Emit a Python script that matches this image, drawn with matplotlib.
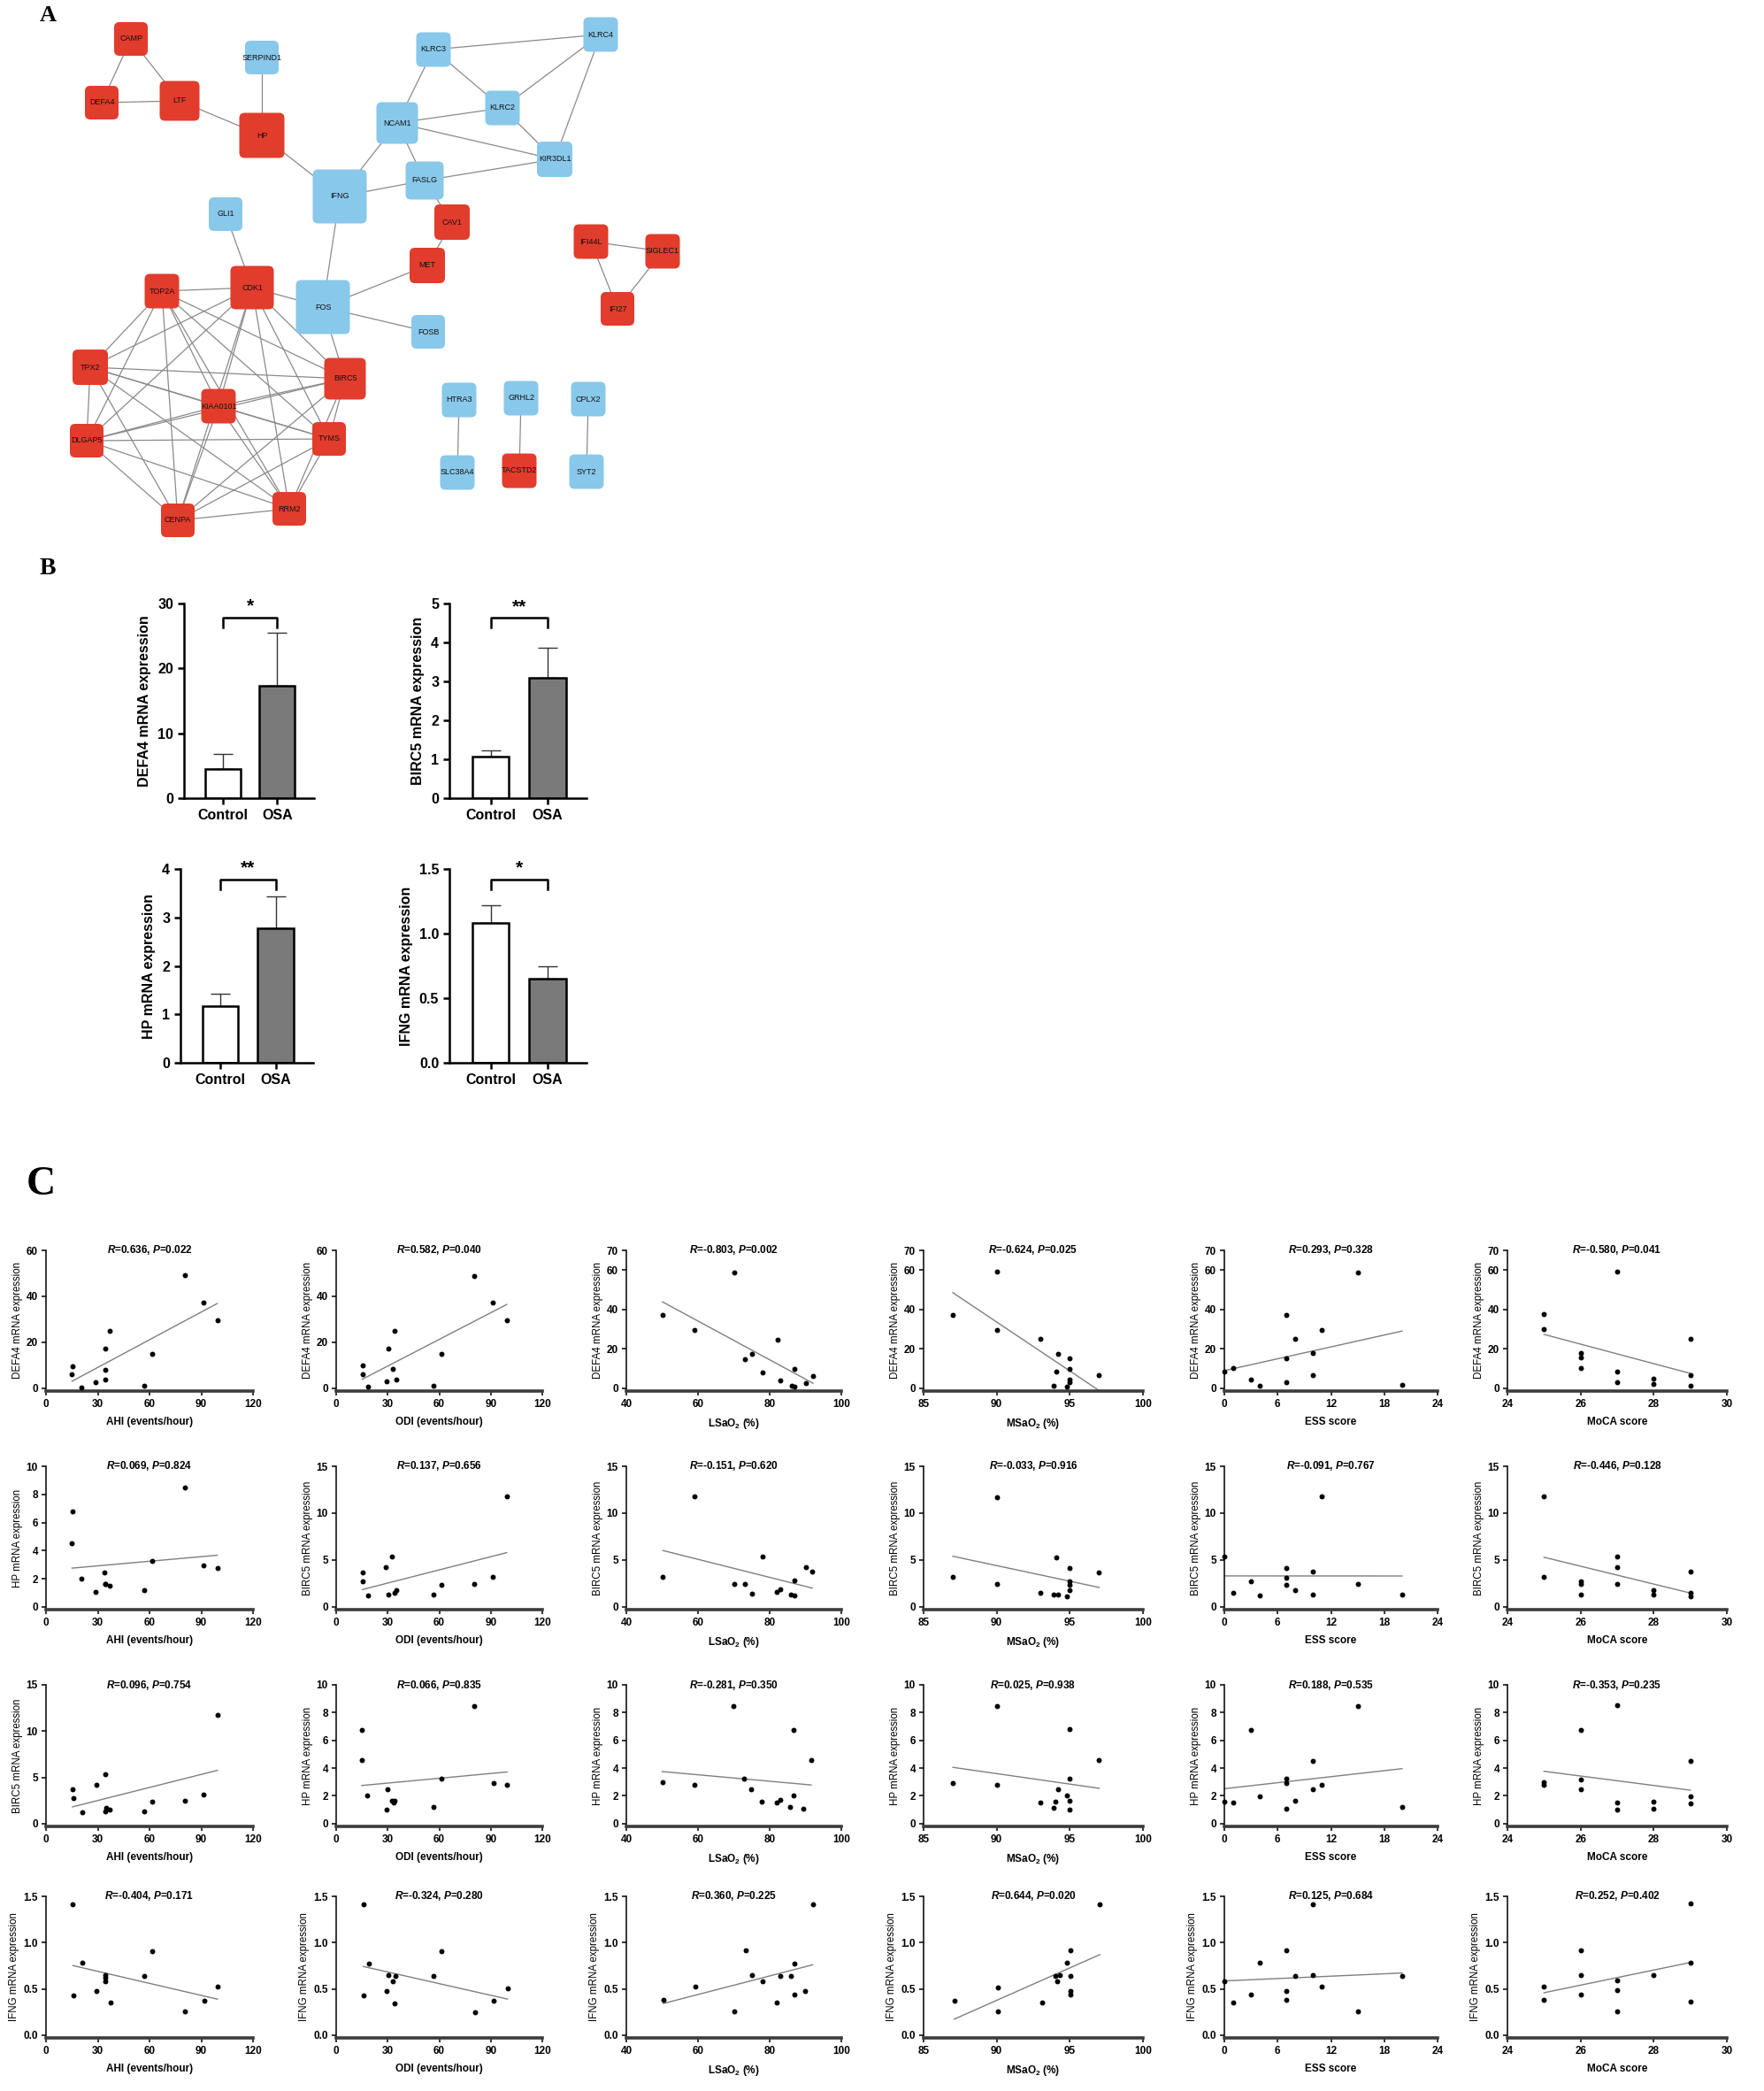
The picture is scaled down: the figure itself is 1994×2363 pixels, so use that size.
import itertools
import matplotlib
matplotlib.use('Agg')
import matplotlib.pyplot as plt
from matplotlib.patches import FancyBboxPatch
import numpy as np

plt.rcParams['font.family'] = 'sans-serif'
plt.rcParams['font.sans-serif'] = ['Liberation Sans', 'DejaVu Sans']
plt.rcParams['mathtext.fontset'] = 'custom'
plt.rcParams['mathtext.rm'] = 'sans:bold'
plt.rcParams['mathtext.bfit'] = 'sans:italic:bold'

W, H = 1994, 2363

# ---------------- panel A: PPI network ----------------
node_names = ['CAMP', 'DEFA4', 'LTF', 'SERPIND1', 'HP', 'KLRC3', 'KLRC4', 'KLRC2', 'NCAM1',
              'KIR3DL1', 'FASLG', 'IFNG', 'GLI1', 'CAV1', 'MET', 'FOS', 'FOSB', 'CDK1',
              'TOP2A', 'TPX2', 'BIRC5', 'KIAA0101', 'TYMS', 'DLGAP5', 'CENPA', 'RRM2',
              'IFI44L', 'SIGLEC1', 'IFI27', 'HTRA3', 'GRHL2', 'CPLX2', 'SLC38A4', 'TACSTD2', 'SYT2']
node_x = [148, 115, 203, 296, 296, 490, 679, 568, 449, 627, 480, 384, 255, 511, 483, 365, 484, 285,
          183, 102, 390, 247, 372, 98, 201, 327, 668, 749, 698, 519, 589, 665, 517, 587, 663]
node_y = [44, 116, 114, 65, 153, 56, 39, 122, 139, 180, 204, 222, 242, 251, 300, 347, 375, 325,
          329, 415, 428, 459, 496, 498, 588, 575, 273, 284, 349, 452, 450, 451, 534, 532, 533]
node_size = [38, 38, 45, 38, 51, 39, 39, 39, 47, 40, 43, 61, 38, 40, 40, 61, 38, 49,
             39, 40, 47, 39, 38, 38, 38, 38, 39, 39, 38, 39, 39, 39, 39, 39, 39]
up_genes = ['CAMP', 'DEFA4', 'LTF', 'HP', 'CAV1', 'MET', 'CDK1', 'TOP2A', 'TPX2', 'BIRC5',
            'KIAA0101', 'TYMS', 'DLGAP5', 'CENPA', 'RRM2', 'IFI44L', 'SIGLEC1', 'IFI27', 'TACSTD2']
edges = [('CAMP', 'DEFA4'), ('CAMP', 'LTF'), ('DEFA4', 'LTF'), ('LTF', 'HP'), ('SERPIND1', 'HP'),
         ('HP', 'IFNG'), ('IFNG', 'NCAM1'), ('IFNG', 'FASLG'), ('IFNG', 'FOS'), ('NCAM1', 'KLRC3'),
         ('NCAM1', 'KLRC2'), ('NCAM1', 'KIR3DL1'), ('NCAM1', 'FASLG'), ('KLRC3', 'KLRC4'),
         ('KLRC3', 'KLRC2'), ('KLRC4', 'KLRC2'), ('KLRC4', 'KIR3DL1'), ('KLRC2', 'KIR3DL1'),
         ('FASLG', 'KIR3DL1'), ('FASLG', 'CAV1'), ('CAV1', 'MET'), ('MET', 'FOS'), ('FOS', 'FOSB'),
         ('FOS', 'CDK1'), ('FOS', 'BIRC5'), ('GLI1', 'CDK1'), ('IFI44L', 'SIGLEC1'),
         ('IFI44L', 'IFI27'), ('SIGLEC1', 'IFI27'), ('HTRA3', 'SLC38A4'), ('GRHL2', 'TACSTD2'),
         ('CPLX2', 'SYT2')]
cluster = ['CDK1', 'TOP2A', 'TPX2', 'BIRC5', 'KIAA0101', 'TYMS', 'DLGAP5', 'CENPA', 'RRM2']
edges += list(itertools.combinations(cluster, 2))

# ---------------- panel B: qPCR bars ----------------
b_genes = ['DEFA4', 'BIRC5', 'HP', 'IFNG']
ctrl_mean = [4.47, 1.07, 1.17, 1.08]
ctrl_err = [2.33, 0.16, 0.25, 0.14]
osa_mean = [17.35, 3.08, 2.78, 0.65]
osa_err = [8.15, 0.78, 0.65, 0.10]
b_ymax = [30, 5, 4, 1.5]
b_yticks = [[0, 10, 20, 30], [0, 1, 2, 3, 4, 5], [0, 1, 2, 3, 4], [0.0, 0.5, 1.0, 1.5]]
b_stars = ['*', '**', '**', '*']
b_bracket = [27.8, 4.63, 3.78, 1.42]

# ---------------- panel C: correlations ----------------
x_labels = ['AHI (events/hour)', 'ODI (events/hour)', r'LSaO$_2$ (%)', r'MSaO$_2$ (%)',
            'ESS score', 'MoCA score']
x_lims = [(0, 120), (0, 120), (40, 100), (85, 100), (0, 24), (24, 30)]
x_ticks = [[0, 30, 60, 90, 120], [0, 30, 60, 90, 120], [40, 60, 80, 100], [85, 90, 95, 100],
           [0, 6, 12, 18, 24], [24, 26, 28, 30]]

row_genes = [['DEFA4'] * 6,
             ['HP'] + ['BIRC5'] * 5,
             ['BIRC5'] + ['HP'] * 5,
             ['IFNG'] * 6]

r1_x = [[15.6, 15.1, 20.6, 28.9, 34.2, 34.2, 34.4, 36.9, 56.9, 61.5, 80.3, 91.5, 99.3],
        [15.2, 15.2, 18.4, 30.2, 29.3, 32.9, 33.9, 34.8, 56.7, 61.3, 80.2, 91.2, 99.3],
        [50.1, 59.0, 70.1, 73.0, 75.1, 78.0, 82.1, 83.0, 86.1, 87.0, 87.0, 90.1, 92.1],
        [87.0, 90.0, 90.0, 93.0, 94.2, 94.1, 93.9, 94.8, 95.0, 95.0, 95.0, 95.0, 97.0],
        [0, 1, 3, 4, 7, 7, 7, 8, 10, 10, 11, 15, 20],
        [25, 25, 26, 26, 26, 27, 27, 27, 28, 28, 29, 29, 29]]
r1_y = [[9.7, 6.3, 0.5, 2.8, 17.3, 8.1, 3.9, 24.8, 1.3, 15.1, 49.2, 37.3, 29.7],
        [9.8, 6.3, 0.7, 17.3, 2.9, 8.4, 24.8, 3.9, 1.3, 15.1, 49.0, 37.1, 29.7],
        [37.0, 29.6, 58.7, 14.9, 17.3, 8.2, 24.7, 4.1, 1.3, 0.7, 9.7, 2.6, 6.1],
        [37.4, 59.2, 29.7, 25.0, 17.6, 8.4, 1.4, 0.7, 15.3, 10.0, 4.5, 2.9, 6.5],
        [8.5, 10.1, 4.5, 1.2, 37.3, 15.3, 3.2, 24.9, 17.7, 6.6, 29.8, 58.9, 1.9],
        [37.6, 30.0, 17.9, 15.5, 10.2, 59.2, 8.7, 3.3, 4.7, 2.0, 25.0, 6.8, 1.1]]
r1_stats = [('0.636', '0.022'), ('0.582', '0.040'), ('-0.803', '0.002'),
            ('-0.624', '0.025'), ('0.293', '0.328'), ('-0.580', '0.041')]

r2_x = [[15.6, 15.1, 20.4, 28.9, 33.9, 34.2, 34.4, 36.9, 56.9, 61.5, 80.3, 91.5, 99.3],
        [15.2, 15.2, 18.4, 30.2, 29.0, 32.5, 33.9, 34.8, 56.7, 61.3, 80.2, 91.2, 99.3],
        [50.2, 59.0, 70.1, 73.0, 75.0, 78.0, 81.9, 82.9, 85.9, 87.0, 87.0, 90.1, 91.9],
        [87.0, 90.0, 90.0, 93.0, 93.9, 94.2, 94.1, 94.8, 95.0, 95.0, 95.0, 95.0, 97.0],
        [0, 1, 3, 4, 7, 7, 7, 8, 10, 10, 11, 15, 20],
        [25, 25, 26, 26, 26, 27, 27, 27, 28, 28, 29, 29, 29]]
r2_y = [[6.79, 4.54, 1.99, 1.05, 2.46, 1.61, 1.65, 1.50, 1.20, 3.25, 8.50, 2.95, 2.78],
        [3.70, 2.73, 1.17, 1.30, 4.19, 5.36, 1.49, 1.75, 1.27, 2.37, 2.40, 3.15, 11.8],
        [3.20, 11.83, 2.45, 2.45, 1.37, 5.40, 1.58, 1.86, 1.34, 2.80, 1.24, 4.25, 3.79],
        [3.16, 11.73, 2.40, 1.49, 1.28, 1.28, 5.29, 1.16, 4.16, 2.74, 2.37, 1.76, 3.71],
        [5.32, 1.51, 2.74, 1.20, 4.18, 3.14, 2.37, 1.78, 3.75, 1.32, 11.82, 2.40, 1.29],
        [11.8, 3.18, 2.73, 2.42, 1.33, 5.33, 4.21, 2.45, 1.82, 1.30, 3.76, 1.52, 1.15]]
r2_stats = [('0.069', '0.824'), ('0.137', '0.656'), ('-0.151', '0.620'),
            ('-0.033', '0.916'), ('-0.091', '0.767'), ('-0.446', '0.128')]

r3_x = [[15.4, 15.7, 21.2, 29.4, 34.3, 34.3, 35.0, 36.9, 56.9, 61.4, 80.4, 91.5, 99.3],
        [14.9, 14.9, 17.9, 29.1, 29.8, 32.7, 33.4, 34.0, 56.5, 61.2, 80.3, 91.6, 99.5],
        [50.0, 59.1, 69.8, 72.8, 74.8, 77.8, 81.9, 83.0, 85.6, 86.7, 86.7, 89.5, 91.6],
        [87.0, 90.0, 90.0, 93.0, 93.9, 94.0, 94.2, 94.8, 95.0, 95.0, 95.0, 95.0, 97.0],
        [0, 1, 3, 4, 7, 7, 7, 8, 10, 10, 11, 15, 20],
        [25, 25, 26, 26, 26, 27, 27, 27, 28, 28, 29, 29, 29]]
r3_y = [[3.73, 2.73, 1.22, 4.18, 5.34, 1.35, 1.74, 1.54, 1.29, 2.41, 2.44, 3.18, 11.77],
        [6.77, 4.56, 2.00, 1.03, 2.47, 1.63, 1.51, 1.68, 1.20, 3.27, 8.49, 2.95, 2.80],
        [2.96, 2.80, 8.50, 3.27, 2.49, 1.58, 1.54, 1.71, 1.19, 6.77, 2.02, 1.05, 4.55],
        [2.93, 8.50, 2.78, 1.50, 1.16, 1.57, 2.46, 2.01, 6.83, 3.25, 1.65, 1.02, 4.55],
        [1.59, 1.50, 6.77, 1.99, 3.25, 2.93, 1.06, 1.65, 4.53, 2.46, 2.78, 8.46, 1.18],
        [2.97, 2.78, 6.77, 3.21, 2.46, 8.52, 1.52, 1.00, 1.59, 1.10, 4.53, 1.95, 1.44]]
r3_stats = [('0.096', '0.754'), ('0.066', '0.835'), ('-0.281', '0.350'),
            ('0.025', '0.938'), ('0.188', '0.535'), ('-0.353', '0.235')]

r4_x = [[15.6, 16.0, 21.2, 29.3, 34.2, 34.6, 34.2, 37.2, 57.1, 61.3, 80.5, 91.6, 99.4],
        [15.8, 15.8, 18.8, 29.3, 30.6, 33.2, 34.5, 33.9, 56.9, 61.2, 80.9, 91.8, 99.7],
        [50.3, 59.2, 70.0, 73.3, 75.0, 78.1, 82.0, 83.0, 85.9, 87.0, 87.0, 89.8, 92.0],
        [87.1, 90.1, 90.1, 93.1, 94.0, 94.15, 94.3, 94.8, 95.06, 95.06, 95.06, 95.06, 97.05],
        [0, 1, 3, 4, 7, 7, 7, 8, 10, 10, 11, 15, 20],
        [25, 25, 26, 26, 26, 27, 27, 27, 28, 29, 29, 29]]
r4_y = [[1.41, 0.43, 0.78, 0.48, 0.65, 0.62, 0.58, 0.35, 0.64, 0.91, 0.26, 0.37, 0.52],
        [1.41, 0.43, 0.77, 0.48, 0.65, 0.58, 0.64, 0.34, 0.64, 0.91, 0.25, 0.37, 0.51],
        [0.38, 0.52, 0.26, 0.92, 0.65, 0.58, 0.35, 0.64, 0.64, 0.77, 0.44, 0.48, 1.41],
        [0.375, 0.515, 0.26, 0.35, 0.64, 0.58, 0.65, 0.78, 0.92, 0.64, 0.48, 0.44, 1.41],
        [0.585, 0.35, 0.44, 0.78, 0.92, 0.48, 0.38, 0.64, 1.41, 0.65, 0.52, 0.26, 0.64],
        [0.52, 0.38, 0.92, 0.65, 0.44, 0.59, 0.49, 0.26, 0.65, 1.42, 0.78, 0.36]]
r4_stats = [('-0.404', '0.171'), ('-0.324', '0.280'), ('0.360', '0.225'),
            ('0.644', '0.020'), ('0.125', '0.684'), ('0.252', '0.402')]

gene_axis = {'DEFA4': (70, [0, 20, 40, 60, 70]), 'HP': (10, [0, 2, 4, 6, 8, 10]),
             'BIRC5': (15, [0, 5, 10, 15]), 'IFNG': (1.5, [0.0, 0.5, 1.0, 1.5])}

RED = '#E23C2C'
BLUE = '#88C8EA'

fig = plt.figure(figsize=(W / 100, H / 100), dpi=100)


def px_axes(left, top, right, bottom):
    return fig.add_axes([left / W, 1 - bottom / H, (right - left) / W, (bottom - top) / H])


# ---- A ----
axA = px_axes(0, 0, 800, 620)
axA.set_xlim(0, 800)
axA.set_ylim(620, 0)
axA.axis('off')
pos = {n: (x, y) for n, x, y in zip(node_names, node_x, node_y)}
for a, b in edges:
    axA.plot([pos[a][0], pos[b][0]], [pos[a][1], pos[b][1]], color='#8a8a8a', lw=0.9, zorder=1)
for n, x, y, s in zip(node_names, node_x, node_y, node_size):
    col = RED if n in up_genes else BLUE
    axA.add_patch(FancyBboxPatch((x - s / 2, y - s / 2), s, s,
                                 boxstyle='round,pad=0,rounding_size=6',
                                 facecolor=col, edgecolor='none', zorder=2))
    axA.text(x, y, n, ha='center', va='center', fontsize=6.5, color='#111111', zorder=3)

fig.text(45 / W, 1 - 6 / H, 'A', ha='left', va='top', fontsize=19,
         family='Liberation Serif', weight='bold')
fig.text(45 / W, 1 - 630 / H, 'B', ha='left', va='top', fontsize=20,
         family='Liberation Serif', weight='bold')
fig.text(30 / W, 1 - 1318 / H, 'C', ha='left', va='top', fontsize=33,
         family='Liberation Serif', weight='bold')

# ---- B ----
b_boxes = [(208, 682, 355, 902), (508, 682, 663, 902), (204, 982, 354, 1201), (508, 982, 663, 1201)]
for i, box in enumerate(b_boxes):
    ax = px_axes(*box)
    ymax = b_ymax[i]
    ax.bar([0, 1], [ctrl_mean[i], osa_mean[i]], width=0.65, color=['white', '#7a7a7a'],
           edgecolor='black', linewidth=1.8, zorder=2)
    ax.errorbar([0, 1], [ctrl_mean[i], osa_mean[i]], yerr=[[0, 0], [ctrl_err[i], osa_err[i]]],
                fmt='none', ecolor='#333333', elinewidth=1.0, capsize=8, capthick=1.0, zorder=1)
    yb = b_bracket[i]
    leg = 0.05 * ymax
    ax.plot([0, 0, 1, 1], [yb - leg, yb, yb, yb - leg], color='black', lw=1.8, clip_on=False)
    ax.text(0.5, yb + 0.015 * ymax, b_stars[i], ha='center', va='bottom', fontsize=15,
            fontweight='bold')
    ax.set_xlim(-0.72, 1.68)
    ax.set_ylim(0, ymax)
    ax.set_yticks(b_yticks[i])
    if ymax < 2:
        ax.set_yticklabels([f'{t:.1f}' for t in b_yticks[i]])
    ax.set_xticks([0, 1])
    ax.set_xticklabels(['Control', 'OSA'])
    ax.set_ylabel(f'{b_genes[i]} mRNA expression', fontsize=11.5, fontweight='bold', labelpad=5)
    for sp in ['top', 'right']:
        ax.spines[sp].set_visible(False)
    for sp in ['left', 'bottom']:
        ax.spines[sp].set_linewidth(1.8)
    ax.tick_params(width=1.8, length=5, labelsize=11.5)
    for lab in ax.get_xticklabels() + ax.get_yticklabels():
        lab.set_fontweight('bold')

# ---- C ----
c_left = [52, 380, 708, 1044, 1384, 1704]
c_right = [286, 613, 951, 1292, 1625, 1952]
c_top = [1413, 1657, 1904, 2143]
c_bottom = [1572, 1819, 2064, 2303]
rows_x = [r1_x, r2_x, r3_x, r4_x]
rows_y = [r1_y, r2_y, r3_y, r4_y]
rows_stats = [r1_stats, r2_stats, r3_stats, r4_stats]

for r in range(4):
    for c in range(6):
        ax = px_axes(c_left[c], c_top[r], c_right[c], c_bottom[r])
        xs = np.array(rows_x[r][c], dtype=float)
        ys = np.array(rows_y[r][c], dtype=float)
        gene = row_genes[r][c]
        ymax, yt = gene_axis[gene]
        if gene == 'DEFA4' and c < 2:
            ymax, yt = 60, [0, 20, 40, 60]
        ax.scatter(xs, ys, s=18, color='black', zorder=3, clip_on=False, linewidths=0)
        k, b0 = np.polyfit(xs, ys, 1)
        xl = np.array([xs.min(), xs.max()])
        ax.plot(xl, k * xl + b0, color='#7f7f7f', lw=1.0, zorder=2)
        ax.set_xlim(*x_lims[c])
        ax.set_ylim(-0.02 * ymax, ymax)
        ax.set_xticks(x_ticks[c])
        ax.set_yticks(yt)
        if ymax < 2:
            ax.set_yticklabels([f'{t:.1f}' for t in yt])
        ax.set_xlabel(x_labels[c], fontsize=8.5, fontweight='bold', labelpad=6)
        ax.set_ylabel(f'{gene} mRNA expression', fontsize=8.3, labelpad=3)
        rr, pp = rows_stats[r][c]
        ax.text(0.5, 1.0, r'$\mathbfit{R}$=' + rr + r', $\mathbfit{P}$=' + pp,
                transform=ax.transAxes, ha='center', va='center', fontsize=8.5,
                fontweight='bold')
        for sp in ['top', 'right']:
            ax.spines[sp].set_visible(False)
        ax.spines['left'].set_linewidth(1.1)
        ax.spines['bottom'].set_linewidth(2.6)
        ax.spines['bottom'].set_color('#3c3c3c')
        ax.tick_params(width=1.1, length=3.5, labelsize=8.5, pad=3)
        for lab in ax.get_xticklabels() + ax.get_yticklabels():
            lab.set_fontweight('bold')

fig.savefig('out.png', dpi=100)
